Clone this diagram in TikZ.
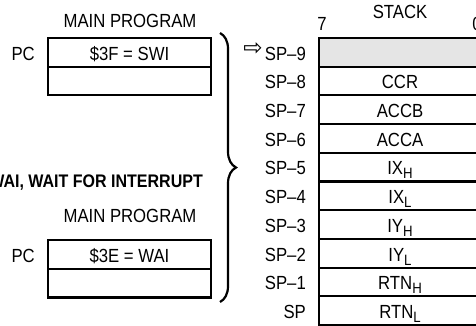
\documentclass[tikz,border=0pt]{standalone}
\usepackage{fontspec}
\setmainfont{Liberation Sans}
\newfontfamily\narrowfont[FakeStretch=0.88]{Liberation Sans}
\newfontfamily\arrowfont{DejaVu Sans}
\newcommand{\diafont}{\narrowfont\fontsize{19}{21}\selectfont}
\newcommand{\lo}[1]{\raisebox{-4pt}{\fontsize{15}{16}\selectfont #1}}
\usetikzlibrary{positioning}
\usetikzlibrary{decorations.pathreplacing}

\begin{document}
\begin{tikzpicture}[x=1pt,y=-1pt]
  \tikzset{cell/.style = {draw,line width=2.2pt,minimum width=163pt,minimum height=28.7pt,inner sep=0pt,outer sep=0pt,
      text height=15.6pt,text depth=0pt,font=\diafont}}
  \tikzset{lbl/.style = {inner sep=0pt,text height=13.6pt,text depth=0pt,font=\diafont}}
  \tikzset{side/.style = {inner sep=0pt,text height=15.6pt,text depth=0pt,font=\diafont}}
  \tikzset{bracket/.style = {decorate,decoration={brace,amplitude=16pt},line width=2.2pt}}

  \useasboundingbox (0,0) rectangle (476,326);
  \clip (0,0) rectangle (476,326);

  % main program, SWI
  \node[lbl] (main1) at (130,21) {MAIN PROGRAM};
  \node[cell,anchor=north west] (swi) at (48,38) {\$3F = SWI};
  \node[cell,below=0pt of swi] (next1) {};
  \node[side,left=13pt of swi] (pc1) {PC};

  \node[lbl,font=\narrowfont\bfseries\fontsize{18.2}{22}\selectfont,anchor=east] (wait) at (203,180.5) {WAI, WAIT FOR INTERRUPT};

  % main program, WAI
  \node[lbl] (main2) at (130,215.5) {MAIN PROGRAM};
  \node[cell,anchor=north west] (wai) at (48,240) {\$3E = WAI};
  \node[cell,below=0pt of wai] (next2) {};
  \node[side,left=13pt of wai] (pc2) {PC};

  \coordinate (brtop) at (220,33);
  \coordinate (brbot) at (220,302);
  \draw[bracket] (brtop) -- (brbot);

  % stack
  \node[lbl] (stack) at (400,11.5) {STACK};
  \node[lbl] (bit7) at (322,24) {7};
  \node[lbl] (bit0) at (477,24) {0};
  \node[cell,fill=black!10,minimum width=162pt,anchor=north] (s9) at (400,38) {};
  \node[side,anchor=east] (ls9) at ([xshift=-13pt]s9.west) {SP–9};
  \node[font=\arrowfont\fontsize{23}{23}\selectfont,inner sep=0pt] (ptr) at (253,49.5) {⇨};
  \foreach \name/\prev/\txt/\sp in {s8/s9/CCR/SP–8, s7/s8/ACCB/SP–7, s6/s7/ACCA/SP–6,
      s5/s6/IX\lo{H}/SP–5, s4/s5/IX\lo{L}/SP–4,
      s3/s4/IY\lo{H}/SP–3, s2/s3/IY\lo{L}/SP–2,
      s1/s2/RTN\lo{H}/SP–1, s0/s1/RTN\lo{L}/SP}
  {
    \node[cell,minimum width=162pt,below=0pt of \prev] (\name) {\txt};
    \node[side,anchor=east] (l\name) at ([xshift=-13pt]\name.west) {\sp};
  }
\end{tikzpicture}
\end{document}
